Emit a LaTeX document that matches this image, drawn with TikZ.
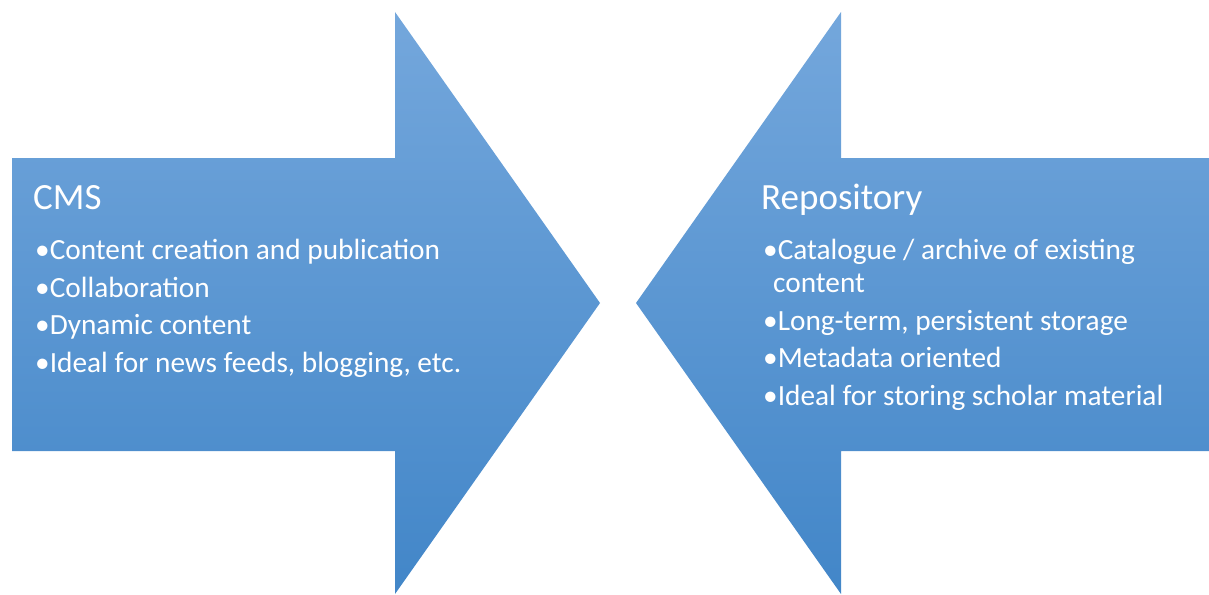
\documentclass[tikz,border=0pt]{standalone}
\usepackage{fontspec}
\setmainfont{Carlito}
\usetikzlibrary{positioning}
\definecolor{arrowtop}{RGB}{116,167,220}
\definecolor{arrowmid}{RGB}{89,155,215}
\definecolor{arrowbot}{RGB}{66,134,200}
\tikzset{
  bigarrow/.style={top color=arrowtop, middle color=arrowmid, bottom color=arrowbot, draw=none},
  heading/.style={anchor=base west, text=white, inner sep=0pt, font=\fontsize{37}{40}\selectfont},
  item/.style={anchor=base west, text=white, inner sep=0pt, font=\fontsize{29.3}{33}\selectfont},
}
\begin{document}
\begin{tikzpicture}[x=1pt,y=-1pt]
\useasboundingbox (0,0) rectangle (1209,594);
% CMS arrow, pointing right
\shade[bigarrow] (12,158) -- (395,158) -- (395,12) -- (600,303) -- (395,594) -- (395,451) -- (12,451) -- cycle;
% Repository arrow, pointing left
\shade[bigarrow] (1209,158) -- (841,158) -- (841,12) -- (636,303) -- (841,594) -- (841,451) -- (1209,451) -- cycle;

% CMS text
\node[heading] (cms) at (33,209) {CMS};
\foreach \name/\y/\txt in {cmsa/259/{Content creation and publication},
    cmsb/297/{Collaboration}, cmsc/334/{Dynamic content},
    cmsd/372/{Ideal for news feeds, blogging, etc.}} {
    \node[item] (\name) at (35,\y) {•\txt};
}

% Repository text
\node[heading] (repo) at (761,209) {Repository};
\foreach \name/\y/\txt in {repoa/259/{Catalogue / archive of existing},
    repoc/330/{Long-term, persistent storage}, repod/367/{Metadata oriented},
    repoe/405/{Ideal for storing scholar material}} {
    \node[item] (\name) at (763,\y) {•\txt};
}
\node[item] (repob) at (773,292) {content};
\end{tikzpicture}
\end{document}
